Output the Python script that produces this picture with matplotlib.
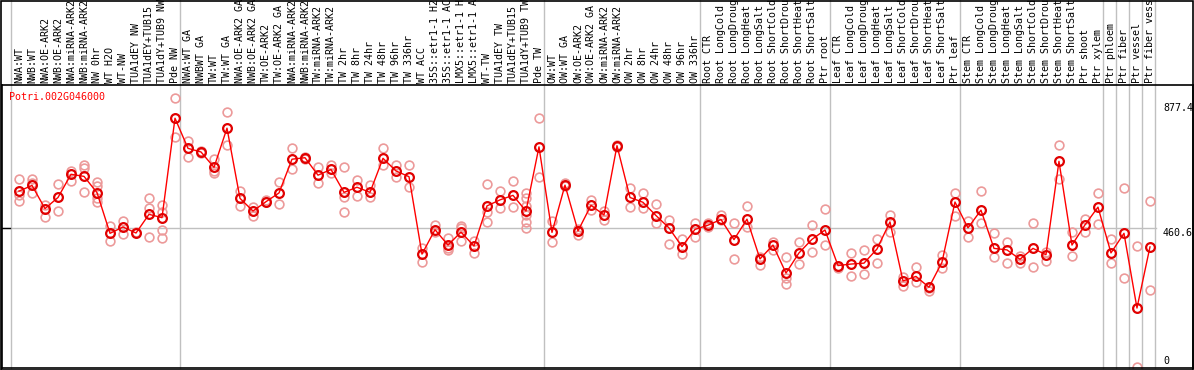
import matplotlib
matplotlib.use("Agg")
import matplotlib.pyplot as plt
from matplotlib.patches import Rectangle
import numpy as np

# sample names, one per column
labels = [
    "NWA:WT", "NWB:WT", "NWA:OE-ARK2", "NWB:OE-ARK2", "NWA:miRNA-ARK2", "NWB:miRNA-ARK2",
    "NW 0hr", "WT H2O", "WT-NW", "TUA1dEY NW", "TUA1dEY+TUB15", "TUA1dY+TUB9 NW", "Pde NW",
    "NWA:WT GA", "NWBWT GA", "TW:WT", "TW:WT GA", "NWA:OE-ARK2 GA", "NWB:OE-ARK2 GA",
    "TW:OE-ARK2", "TW:OE-ARK2 GA", "NWA:miRNA-ARK2", "NWB:miRNA-ARK2", "TW:miRNA-ARK2",
    "TW:miRNA-ARK2", "TW 2hr", "TW 8hr", "TW 24hr", "TW 48hr", "TW 96hr", "TW 336hr", "WT ACC",
    "35S::etr1-1 H2O", "35S::etr1-1 ACC", "LMX5::etr1-1 H2O", "LMX5::etr1-1 ACC", "WT-TW",
    "TUA1dEY TW", "TUA1dEY+TUB15", "TUA1dY+TUB9 TW", "Pde TW",
    "OW:WT", "OW:WT GA", "OW:OE-ARK2", "OW:OE-ARK2 GA", "OW:miRNA-ARK2", "OW:miRNA-ARK2",
    "OW 2hr", "OW 8hr", "OW 24hr", "OW 48hr", "OW 96hr", "OW 336hr",
    "Root CTR", "Root LongCold", "Root LongDrought", "Root LongHeat", "Root LongSalt",
    "Root ShortCold", "Root ShortDrought", "Root ShortHeat", "Root ShortSalt", "Ptr root",
    "Leaf CTR", "Leaf LongCold", "Leaf LongDrought", "Leaf LongHeat", "Leaf LongSalt",
    "Leaf ShortCold", "Leaf ShortDrought", "Leaf ShortHeat", "Leaf ShortSalt", "Ptr leaf",
    "Stem CTR", "Stem LongCold", "Stem LongDrought", "Stem LongHeat", "Stem LongSalt",
    "Stem ShortCold", "Stem ShortDrought", "Stem ShortHeat", "Stem ShortSalt", "Ptr shoot",
    "Ptr xylem", "Ptr phloem", "Ptr fiber", "Ptr vessel", "Ptr fiber vessel",
]

# mean expression per sample
means = [
    584, 603, 526, 563, 640, 633, 579, 444, 465, 445, 507, 496, 826,
    726, 714, 663, 793, 560, 518, 549, 578, 690, 695, 637, 656, 580,
    597, 580, 693, 651, 632, 375, 456, 405, 448, 402, 535, 555, 570,
    518, 731, 447, 604, 452, 537, 505, 735, 563, 547, 503, 462, 400,
    457, 471, 490, 423, 491, 359, 405, 312, 379, 424, 455, 337, 342,
    345, 392, 482, 286, 301, 265, 348, 548, 462, 521, 394, 389, 358,
    394, 373, 683, 405, 472, 531, 379, 444, 196, 399,
]

# individual replicates per sample
replicates = [
    [623, 571, 552], [623, 610, 579], [538, 499], [607, 517], [652, 619],
    [671, 660, 581], [615, 601, 560, 549], [468, 420], [485, 442], [449],
    [560, 529, 431], [538, 516, 455, 427], [892, 763], [752, 698], [718, 710],
    [690, 652, 643], [846, 736], [584, 536], [530, 503], [555, 549],
    [614, 540], [726, 656], [698, 692], [663, 610], [671, 645],
    [663, 563, 514], [621, 567], [603, 566], [726, 672], [671, 630],
    [671, 597], [394, 350], [472, 449], [427, 394, 387], [469, 463, 417],
    [420, 378], [607, 514, 481], [584, 529], [618, 531],
    [577, 560, 536, 505, 481, 461], [826, 632], [486, 414], [610, 601],
    [458, 439], [555, 521], [519, 488], [737, 732], [593, 530], [577, 527],
    [540, 477], [488, 409], [424, 376], [479, 431], [477, 466], [505, 488],
    [477, 358], [535, 464], [366, 339], [416, 389], [364, 295, 276],
    [414, 342], [472, 383], [524, 405], [333, 328], [378, 304], [389, 308],
    [424, 344], [505, 449], [300, 270], [331, 284], [261, 254], [372, 328],
    [577, 503], [485, 433], [584, 477], [444, 367], [416, 344], [370, 347],
    [477, 331], [383, 352], [737, 623], [449, 370], [492, 449], [577, 475],
    [424, 344], [593, 295], [402, 0], [550, 256],
]

# group separators (after these sample indices)
separators = [-1, 12, 40, 52, 62, 72, 83, 84, 85, 86, 87]
axis_ticks = [877.4, 460.6, 0]

W, H = 1194, 370
fig = plt.figure(figsize=(W / 100, H / 100), dpi=100)
top_px, bot_px, left_px, right_px = 85, 368, 2, 1193
ax = fig.add_axes([left_px / W, (H - bot_px) / H, (right_px - left_px) / W, (bot_px - top_px) / H])

x = np.arange(len(means))
font = dict(family="DejaVu Sans Mono", fontsize=7.2)

ax.set_xlim(-1.308, 90.31)
ax.set_ylim(-3, 936.3)
ax.set_xticks([])
ax.set_yticks([])
for s in ax.spines.values():
    s.set_color("black")
    s.set_linewidth(1.2)

# vertical group lines, running up through the label strip
for s in separators:
    ax.axvline(s + 0.38, ymin=0, ymax=bot_px / (bot_px - top_px), color="#c0c0c0",
               lw=1, clip_on=False, zorder=0)

# middle reference line
ax.plot([-1.308, 87.46], [460.6, 460.6], color="#c0c0c0", lw=1, zorder=0)
ax.plot([-1.308, -0.7], [460.6, 460.6], color="black", lw=1, zorder=1)

# replicates
for i, reps in enumerate(replicates):
    ax.plot([i] * len(reps), reps, "o", ms=6.3, mfc="none", mec="#ec9a9a", mew=1.2,
            zorder=2, clip_on=True)

ax.plot(x, means, "-", color="#ff0000", lw=1, zorder=3)
ax.plot(x, means, "o", ms=6.3, mfc="none", mec="#e00000", mew=1.6, zorder=4)

# sample labels
for i, lab in enumerate(labels):
    ax.text(i, 1.0 + 2 / (bot_px - top_px), lab, rotation=90, ha="center", va="bottom",
            transform=ax.get_xaxis_transform(), clip_on=False, **font)

ax.text(-0.75, 0.959, "Potri.002G046000", color="red", ha="left", va="center",
        transform=ax.get_xaxis_transform(), **font)

# right-side value labels
ax.text(88.0, 877.4, "877.4", ha="left", va="top", **font)
ax.text(88.0, 460.6, "460.6", ha="left", va="top", **font)
ax.text(88.0, 3, "0", ha="left", va="bottom", **font)

# outer frame
fig.patches.append(Rectangle((0.5 / W, 0.5 / H), (W - 1.5) / W, (H - 1.5) / H,
                             transform=fig.transFigure, fill=False, ec="black", lw=1.2))

fig.savefig("out.png", dpi=100)
